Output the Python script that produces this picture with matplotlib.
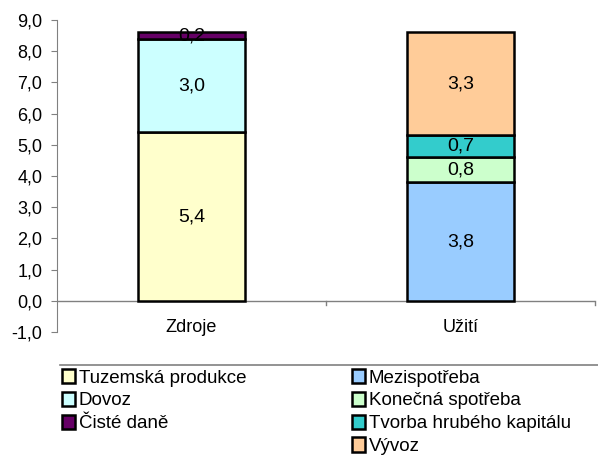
import matplotlib
matplotlib.use("Agg")
import matplotlib.pyplot as plt
from matplotlib.patches import Patch
from matplotlib.lines import Line2D
import numpy as np

plt.rcParams['font.family'] = ['Liberation Sans', 'DejaVu Sans']

categories = ["Zdroje", "Užití"]

# zdroje
zdroje_names = ["Tuzemská produkce", "Dovoz", "Čisté daně"]
zdroje_vals = [5.4, 3.0, 0.2]
zdroje_colors = ["#FFFFCC", "#CCFFFF", "#660066"]

# uziti
uziti_names = ["Mezispotřeba", "Konečná spotřeba", "Tvorba hrubého kapitálu", "Vývoz"]
uziti_vals = [3.8, 0.8, 0.7, 3.3]
uziti_colors = ["#99CCFF", "#CCFFCC", "#33CCCC", "#FFCC99"]

W, H = 598, 455
fig = plt.figure(figsize=(W / 100, H / 100), dpi=100)
ax = fig.add_axes([0.0953, 0.2703, 0.8997, 0.6857])

w = 0.4


def stack(x, vals, colors):
    bottom = 0
    for v, c in zip(vals, colors):
        ax.bar(x, v, w, bottom=bottom, color=c, edgecolor='black', linewidth=1.8, zorder=3)
        ax.text(x, bottom + v / 2, ("%.1f" % v).replace('.', ','), ha='center', va='center',
                fontsize=14, zorder=4)
        bottom += v


stack(0, zdroje_vals, zdroje_colors)
stack(1, uziti_vals, uziti_colors)

ax.set_xlim(-0.5, 1.5)
ax.set_ylim(-1, 9)
yt = np.arange(-1, 9.1, 1)
ax.set_yticks(yt)
ax.set_yticklabels([("%.1f" % t).replace('.', ',') for t in yt], fontsize=13)
ax.spines['top'].set_visible(False)
ax.spines['right'].set_visible(False)
ax.spines['bottom'].set_visible(False)
ax.spines['left'].set_color('#808080')
ax.axhline(0, color='#808080', linewidth=1, zorder=2)
ax.tick_params(axis='y', length=4.5, color='#808080', pad=6)
ax.set_xticks([])
for i, cat in enumerate(categories):
    ax.text(i, -0.85, cat, ha='center', va='center', fontsize=13)
# category boundary ticks on the zero line
for xb in [0.5, 1.5]:
    ax.plot([xb, xb], [0, -0.13], color='#808080', linewidth=1, clip_on=False)


def legend_col(names, colors, x_px):
    hs = [Patch(facecolor=c, edgecolor='black', linewidth=1.8) for c in colors]
    lg = fig.legend(hs, names, loc='upper left', bbox_to_anchor=(x_px / W, 1 - 369 / H),
                    frameon=False, fontsize=13.5, handlelength=0.7, handleheight=0.8,
                    handletextpad=0.2, labelspacing=0.27, borderpad=0, borderaxespad=0)
    return lg


legend_col(zdroje_names, zdroje_colors, 62)
legend_col(uziti_names, uziti_colors, 352)
fig.add_artist(Line2D([60 / W, 1.0], [1 - 365 / H, 1 - 365 / H], color='#808080', linewidth=1.2))

fig.savefig("out.png", dpi=100)
